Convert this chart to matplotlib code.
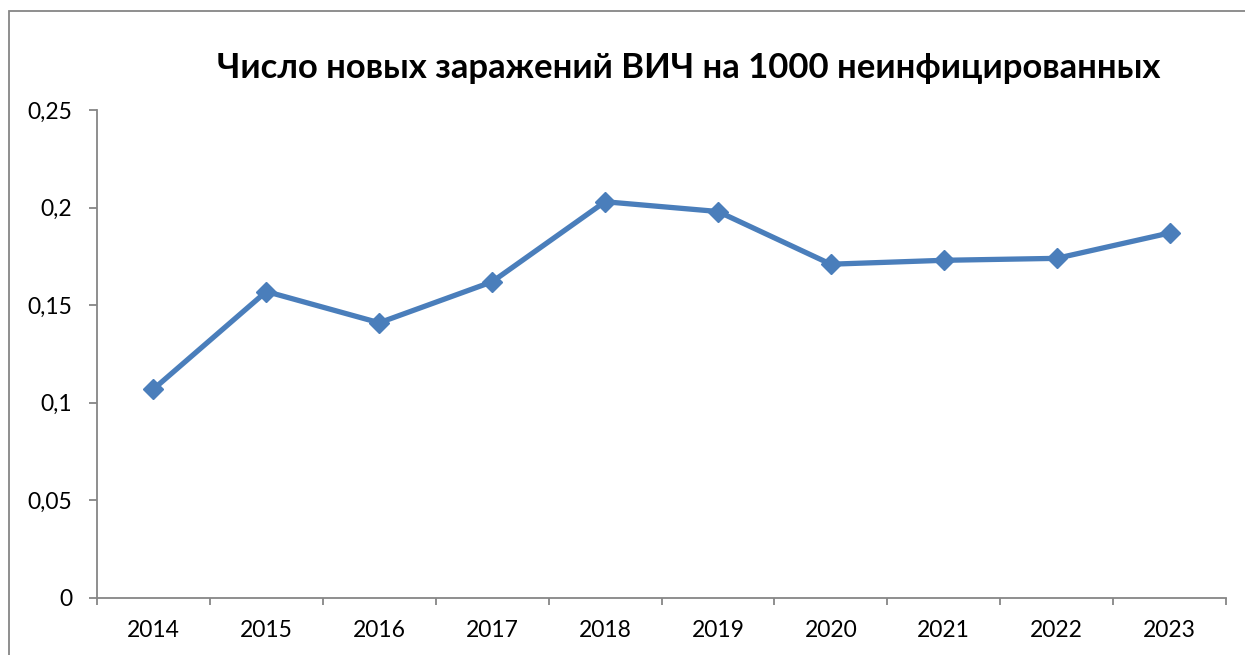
import numpy as np
import matplotlib.pyplot as plt
from matplotlib.patches import Rectangle
from matplotlib.ticker import FixedLocator, FuncFormatter

years = ['2014', '2015', '2016', '2017', '2018', '2019', '2020', '2021', '2022', '2023']
rate = [0.107, 0.157, 0.141, 0.162, 0.203, 0.198, 0.171, 0.173, 0.174, 0.187]

plt.rcParams['font.family'] = ['Lato', 'DejaVu Sans']

fig = plt.figure(figsize=(12.45, 6.55), dpi=100)
ax = fig.add_axes([97 / 1245, 1 - 598 / 655, (1226 - 97) / 1245, (598 - 110) / 655])

# outer chart border (cropped at right and bottom)
fig.patches.append(Rectangle((8.5 / 1245, -0.1), 1.2, 1 - 11 / 655 + 0.1,
                             transform=fig.transFigure, fill=False,
                             edgecolor='#868686', linewidth=1.3))

x = np.arange(len(years))
ax.plot(x, rate, color='#4A7EBB', linewidth=3.8, marker='D', markersize=10.5,
        markerfacecolor='#4A7EBB', markeredgecolor='#4A7EBB')

ax.set_xlim(-0.5, len(years) - 0.5)
ax.set_ylim(0, 0.25)

# category boundaries as major ticks, labels on centers
ax.xaxis.set_major_locator(FixedLocator(np.arange(len(years) + 1) - 0.5))
ax.xaxis.set_major_formatter(FuncFormatter(lambda v, p: ''))
ax.xaxis.set_minor_locator(FixedLocator(x))
ax.set_xticks(x, years, minor=True)
ax.tick_params(axis='x', which='major', length=5, width=1.3, color='#868686', direction='out')
ax.tick_params(axis='x', which='minor', length=0, pad=16, labelsize=16.5)

yt = [0, 0.05, 0.1, 0.15, 0.2, 0.25]
ax.set_yticks(yt, ['0', '0,05', '0,1', '0,15', '0,2', '0,25'])
ax.tick_params(axis='y', length=6, width=1.3, color='#868686', direction='out', pad=12, labelsize=16.5)

for s in ['top', 'right']:
    ax.spines[s].set_visible(False)
for s in ['left', 'bottom']:
    ax.spines[s].set_color('#868686')
    ax.spines[s].set_linewidth(1.3)

fig.text(689 / 1245, 1 - 67.5 / 655, 'Число новых заражений ВИЧ на 1000 неинфицированных',
         ha='center', va='center', fontsize=24.9, fontweight='bold')

fig.savefig('out.png', dpi=100)
